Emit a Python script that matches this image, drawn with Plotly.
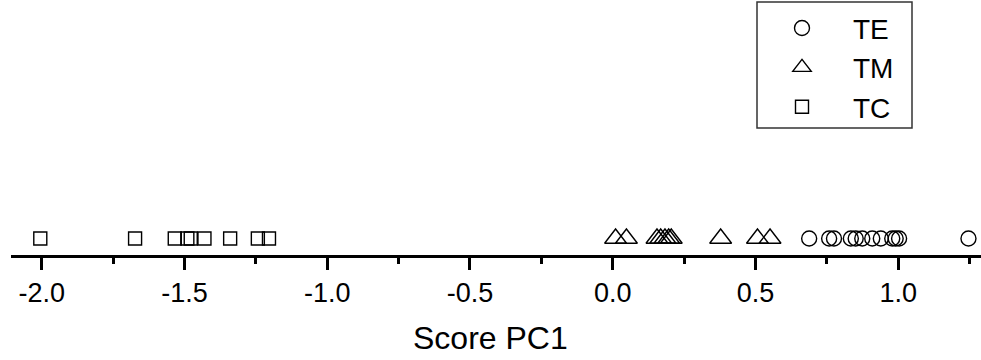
import plotly.graph_objects as go

# Data (Score PC1 values)
te_scores = [0.688, 0.758, 0.775, 0.834, 0.851, 0.874, 0.909, 0.939, 0.979, 0.991, 1.003, 1.246]
tm_scores = [0.010, 0.048, 0.155, 0.168, 0.183, 0.196, 0.205, 0.378, 0.507, 0.551]
tc_scores = [-2.005, -1.673, -1.534, -1.490, -1.478, -1.430, -1.340, -1.243, -1.204]

tick_vals = [-2.0, -1.5, -1.0, -0.5, 0.0, 0.5, 1.0]
tick_text = ["-2.0", "-1.5", "-1.0", "-0.5", "0.0", "0.5", "1.0"]

FONT = "Liberation Sans, Arial, sans-serif"

# plot area in pixels: x 11..981, y 0..255
L, W, H = 11, 970, 255


def px_x(p):
    return (p - L) / W


def px_y(p):
    return (H - p) / H


fig = go.Figure()
series = [
    ("TE", te_scores, "circle-open", 15),
    ("TM", tm_scores, "triangle-up-open", 19),
    ("TC", tc_scores, "square-open", 13),
]
for name, vals, sym, size in series:
    fig.add_trace(go.Scatter(
        x=vals, y=[0] * len(vals), mode="markers", name=name,
        legendgroup=name,
        marker=dict(symbol=sym, size=size, color="black",
                    line=dict(color="black", width=1.4)),
    ))

fig.update_layout(
    width=981, height=360,
    margin=dict(l=L, r=0, t=0, b=360 - H),
    paper_bgcolor="white", plot_bgcolor="white",
    font=dict(family=FONT, color="black"),
    showlegend=True,
    legend=dict(
        x=px_x(751), y=px_y(3.3), xanchor="left", yanchor="top",
        bgcolor="rgba(0,0,0,0)", borderwidth=0,
        font=dict(size=28, family=FONT, color="black"),
        itemwidth=92, tracegroupgap=0,
    ),
    shapes=[dict(
        type="rect", xref="paper", yref="paper",
        x0=px_x(757), x1=px_x(912), y0=px_y(128), y1=px_y(2),
        line=dict(color="#333333", width=1.5), fillcolor="white", layer="above",
    )],
    xaxis=dict(
        range=[-2.1076, 1.2899], showgrid=False, zeroline=False,
        showline=True, linecolor="black", linewidth=2.5,
        ticks="outside", ticklen=12, tickwidth=2.5, tickcolor="black",
        tickvals=tick_vals, ticktext=tick_text,
        tickfont=dict(size=27, family=FONT, color="black"),
        minor=dict(ticks="outside", ticklen=6, tickwidth=2.5,
                   tickcolor="black", dtick=0.25, showgrid=False),
    ),
    yaxis=dict(range=[-1, 14.45], visible=False, showgrid=False, zeroline=False),
    annotations=[dict(
        text="Score PC1", xref="paper", yref="paper",
        x=px_x(490.5), y=px_y(338),
        xanchor="center", yanchor="middle", showarrow=False,
        font=dict(size=32, family=FONT, color="black"),
    )],
)

fig.write_html("out.html", config={"displayModeBar": False},
               post_script="document.body.style.margin='0px';")
